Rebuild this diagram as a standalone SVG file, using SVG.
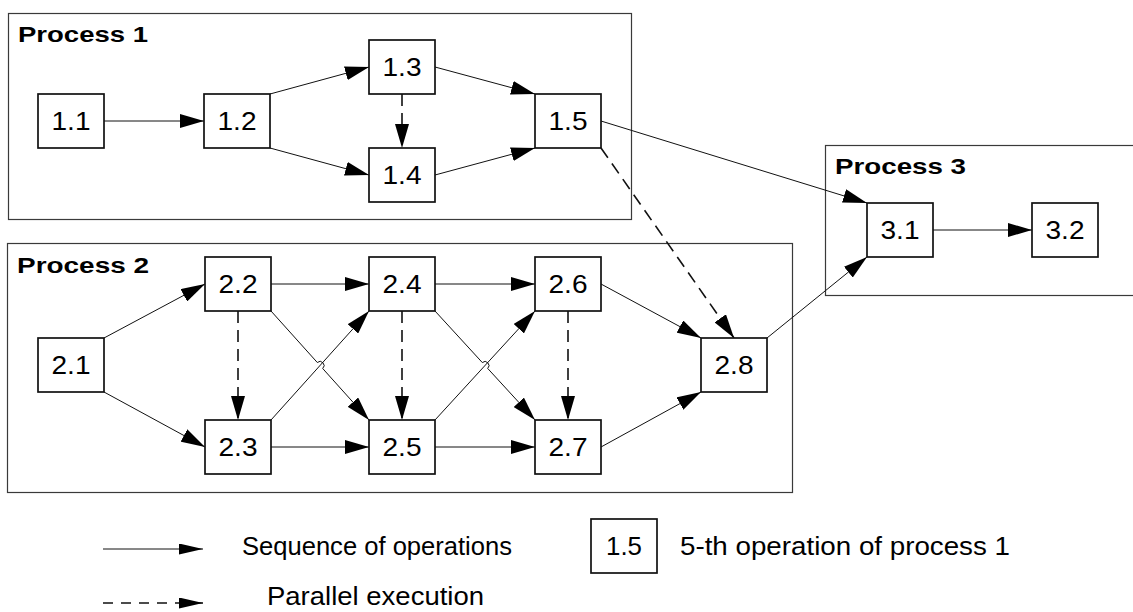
<svg xmlns="http://www.w3.org/2000/svg" width="1133" height="612" viewBox="0 0 1133 612">
<style>
.proc{fill:none;stroke:#3a3a3a;stroke-width:1.2}
.box{fill:#fff;stroke:#111;stroke-width:1.7}
.lbl{font-family:"Liberation Sans",Arial,sans-serif;font-size:25px;fill:#000;text-anchor:middle}
.title{font-family:"Liberation Sans",Arial,sans-serif;font-size:22px;font-weight:bold;fill:#000}
.leg{font-family:"Liberation Sans",Arial,sans-serif;font-size:25px;fill:#000}
.seq{fill:none;stroke:#111;stroke-width:1;marker-end:url(#ah)}
.par{fill:none;stroke:#111;stroke-width:1.6;stroke-dasharray:12,7;marker-end:url(#ah)}
</style>
<defs>
<marker id="ah" markerUnits="userSpaceOnUse" markerWidth="24" markerHeight="14" refX="24" refY="7" orient="auto">
<path d="M0,0 L24,7 L0,14 z" fill="#000"/>
</marker>
<marker id="ahs" markerUnits="userSpaceOnUse" markerWidth="24" markerHeight="11" refX="24" refY="5.5" orient="auto">
<path d="M0,0 L24,5.5 L0,11 z" fill="#000"/>
</marker>
</defs>
<rect width="1133" height="612" fill="#fff"/>

<g id="process1">
<rect class="proc" x="8.5" y="13.5" width="623" height="206"/>
<text class="title" x="18" y="42" textLength="130" lengthAdjust="spacingAndGlyphs">Process 1</text>
</g>
<g id="process2">
<rect class="proc" x="7.5" y="243.5" width="785" height="249"/>
<text class="title" x="17" y="273" textLength="132" lengthAdjust="spacingAndGlyphs">Process 2</text>
</g>
<g id="process3">
<rect class="proc" x="825.5" y="145.5" width="330" height="150"/>
<text class="title" x="835" y="174" textLength="131" lengthAdjust="spacingAndGlyphs">Process 3</text>
</g>

<g id="connectors">
<line class="seq" x1="104" y1="121" x2="204" y2="121"/>
<line class="seq" x1="270" y1="94" x2="369" y2="67"/>
<line class="seq" x1="270" y1="148" x2="369" y2="175"/>
<line class="par" x1="402" y1="94" x2="402" y2="148"/>
<line class="seq" x1="435" y1="67" x2="535" y2="94"/>
<line class="seq" x1="435" y1="175" x2="535" y2="148"/>
<line class="seq" x1="601" y1="121" x2="867" y2="203"/>
<line class="par" x1="601" y1="148" x2="734" y2="338"/>
<line class="seq" x1="104" y1="338" x2="205" y2="284"/>
<line class="seq" x1="104" y1="392" x2="205" y2="447"/>
<line class="par" x1="238" y1="311" x2="238" y2="420"/>
<line class="seq" x1="271" y1="284" x2="369" y2="284"/>
<path class="seq" d="M271,311 L317.3,362.5 A4,4 0 0 1 322.7,368.5 L369,420"/>
<line class="seq" x1="271" y1="420" x2="369" y2="311"/>
<line class="seq" x1="271" y1="447" x2="369" y2="447"/>
<line class="par" x1="402" y1="311" x2="402" y2="420"/>
<line class="seq" x1="435" y1="284" x2="535" y2="284"/>
<path class="seq" d="M435,311 L482.3,362.55 A4,4 0 0 1 487.7,368.45 L535,420"/>
<line class="seq" x1="435" y1="420" x2="535" y2="311"/>
<line class="seq" x1="435" y1="447" x2="535" y2="447"/>
<line class="par" x1="568" y1="311" x2="568" y2="420"/>
<line class="seq" x1="601" y1="284" x2="701" y2="338"/>
<line class="seq" x1="601" y1="447" x2="701" y2="392"/>
<line class="seq" x1="767" y1="338" x2="867" y2="257"/>
<line class="seq" x1="933" y1="230" x2="1032" y2="230"/>
</g>

<g id="n1_1"><rect class="box" x="38" y="94" width="66" height="54"/><text class="lbl" x="71" y="130" textLength="39" lengthAdjust="spacingAndGlyphs">1.1</text></g>
<g id="n1_2"><rect class="box" x="204" y="94" width="66" height="54"/><text class="lbl" x="237" y="130" textLength="39" lengthAdjust="spacingAndGlyphs">1.2</text></g>
<g id="n1_3"><rect class="box" x="369" y="40" width="66" height="54"/><text class="lbl" x="402" y="76" textLength="39" lengthAdjust="spacingAndGlyphs">1.3</text></g>
<g id="n1_4"><rect class="box" x="369" y="148" width="66" height="54"/><text class="lbl" x="402" y="184" textLength="39" lengthAdjust="spacingAndGlyphs">1.4</text></g>
<g id="n1_5"><rect class="box" x="535" y="94" width="66" height="54"/><text class="lbl" x="568" y="130" textLength="39" lengthAdjust="spacingAndGlyphs">1.5</text></g>
<g id="n2_1"><rect class="box" x="38" y="338" width="66" height="54"/><text class="lbl" x="71" y="374" textLength="39" lengthAdjust="spacingAndGlyphs">2.1</text></g>
<g id="n2_2"><rect class="box" x="205" y="257" width="66" height="54"/><text class="lbl" x="238" y="293" textLength="39" lengthAdjust="spacingAndGlyphs">2.2</text></g>
<g id="n2_3"><rect class="box" x="205" y="420" width="66" height="54"/><text class="lbl" x="238" y="456" textLength="39" lengthAdjust="spacingAndGlyphs">2.3</text></g>
<g id="n2_4"><rect class="box" x="369" y="257" width="66" height="54"/><text class="lbl" x="402" y="293" textLength="39" lengthAdjust="spacingAndGlyphs">2.4</text></g>
<g id="n2_5"><rect class="box" x="369" y="420" width="66" height="54"/><text class="lbl" x="402" y="456" textLength="39" lengthAdjust="spacingAndGlyphs">2.5</text></g>
<g id="n2_6"><rect class="box" x="535" y="257" width="66" height="54"/><text class="lbl" x="568" y="293" textLength="39" lengthAdjust="spacingAndGlyphs">2.6</text></g>
<g id="n2_7"><rect class="box" x="535" y="420" width="66" height="54"/><text class="lbl" x="568" y="456" textLength="39" lengthAdjust="spacingAndGlyphs">2.7</text></g>
<g id="n2_8"><rect class="box" x="701" y="338" width="66" height="54"/><text class="lbl" x="734" y="374" textLength="39" lengthAdjust="spacingAndGlyphs">2.8</text></g>
<g id="n3_1"><rect class="box" x="867" y="203" width="66" height="54"/><text class="lbl" x="900" y="239" textLength="39" lengthAdjust="spacingAndGlyphs">3.1</text></g>
<g id="n3_2"><rect class="box" x="1032" y="203" width="66" height="54"/><text class="lbl" x="1065" y="239" textLength="39" lengthAdjust="spacingAndGlyphs">3.2</text></g>

<g id="legend">
<line x1="103" y1="549" x2="203" y2="549" stroke="#111" stroke-width="1" marker-end="url(#ahs)"/>
<text class="leg" x="242" y="555" textLength="270" lengthAdjust="spacingAndGlyphs">Sequence of operations</text>
<line x1="103" y1="603" x2="203" y2="603" stroke="#111" stroke-width="1.6" stroke-dasharray="10,8" marker-end="url(#ahs)"/>
<text class="leg" x="267" y="605" textLength="217" lengthAdjust="spacingAndGlyphs">Parallel execution</text>
<rect class="box" x="591" y="519" width="66" height="54"/>
<text class="lbl" x="624" y="555" textLength="36" lengthAdjust="spacingAndGlyphs">1.5</text>
<text class="leg" x="680" y="555" textLength="330" lengthAdjust="spacingAndGlyphs">5-th operation of process 1</text>
</g>
</svg>
